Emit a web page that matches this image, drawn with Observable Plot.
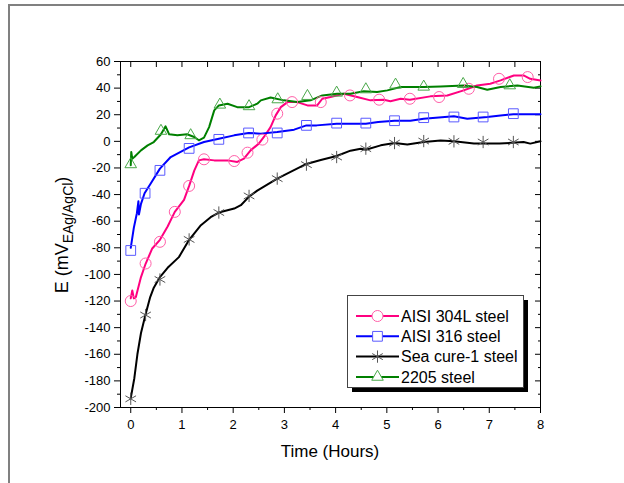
<!DOCTYPE html>
<html><head><meta charset="utf-8">
<script src="https://cdn.jsdelivr.net/npm/d3@7"></script>
<script src="https://cdn.jsdelivr.net/npm/@observablehq/plot@0.6"></script>
<style>
body{margin:0;background:#fff;}
#wrap{position:relative;width:624px;height:483px;overflow:hidden;font-family:Arial,"Liberation Sans",sans-serif;}
#border{position:absolute;left:8px;top:4px;width:700px;height:600px;border-top:2px solid #808080;border-left:2px solid #808080;}
#wrap svg{position:absolute;left:0;top:0;}
</style></head><body><div id="wrap"><div id="border"></div></div>
<script>
// ---- data ----
const seriesNames = ["AISI 304L steel", "AISI 316 steel", "Sea cure-1 steel", "2205 steel"];
const lineColors = ["#ff0080", "#0000ff", "#000000", "#008000"];
const markerColors = ["#ff5fa8", "#5a5aff", "#555555", "#4aa84a"];
const markerSymbols = ["circle", "square", "asterisk", "triangle"];

const pinkT = [0, 0.03, 0.06, 0.1, 0.2, 0.29, 0.42, 0.57, 0.72, 0.86, 1.04, 1.14, 1.24, 1.33, 1.43, 1.63, 1.89, 2.08, 2.21, 2.34, 2.5, 2.6, 2.73, 2.83, 2.93, 3.06, 3.25, 3.45, 3.64, 3.74, 3.9, 4.16, 4.42, 4.68, 4.94, 5.07, 5.27, 5.45, 5.85, 6.18, 6.5, 6.76, 7.02, 7.22, 7.48, 7.67, 7.8, 8];
const pinkE = [-118, -112, -118, -117, -102, -92, -80.5, -74, -64, -53, -44, -33.5, -22, -14.3, -13.5, -14.3, -14.3, -15.5, -13, -6.8, -1.7, 3.3, 10.7, 19.5, 25.7, 29.5, 29.5, 27, 27, 32, 33.3, 35.8, 33.3, 30.8, 31.3, 30.2, 32, 31.3, 33.8, 34.5, 38.3, 42, 43.3, 45.8, 49.5, 49.5, 47, 45.8];
const pinkMarkT = [0, 0.29, 0.57, 0.86, 1.14, 1.43, 2.02, 2.28, 2.57, 2.86, 3.15, 3.71, 4.28, 4.85, 5.45, 6.02, 6.6, 7.19, 7.75];
const pinkMarkE = [-120, -91.8, -75.5, -53, -33.5, -13.5, -14.8, -8.5, 1.3, 20.8, 29.5, 29.5, 34.5, 31.3, 32, 33.3, 39.5, 47, 48.3];

const blueT = [0, 0.06, 0.12, 0.15, 0.16, 0.2, 0.27, 0.39, 0.57, 0.78, 1.14, 1.43, 1.72, 2.02, 2.3, 2.54, 2.86, 3.19, 3.43, 3.63, 4.02, 4.59, 4.83, 5.15, 5.46, 5.72, 6.31, 6.57, 6.96, 7.22, 7.47, 8];
const blueE = [-80, -65, -54, -45, -55, -47, -39, -31.7, -20.5, -11.8, -4.5, -0.5, 2, 4.5, 6.3, 5.8, 7, 8.8, 12, 12, 13.3, 13.3, 14.5, 15.5, 15.5, 17, 18.8, 17, 18.3, 19.5, 20.3, 20.3];
const blueMarkT = [0, 0.28, 0.57, 1.14, 1.72, 2.3, 2.86, 3.43, 4.02, 4.59, 5.15, 5.72, 6.31, 6.88, 7.47];
const blueMarkE = [-82, -39, -21.8, -5.3, 1.5, 6.3, 6.3, 12, 13.7, 13.7, 15.5, 17.8, 18.3, 18.3, 20.8];

const blackT = [0, 0.07, 0.13, 0.2, 0.29, 0.38, 0.45, 0.57, 0.72, 0.94, 1.14, 1.37, 1.56, 1.72, 2.02, 2.15, 2.31, 2.47, 2.6, 2.86, 3.12, 3.43, 3.71, 4.02, 4.29, 4.49, 4.59, 4.88, 5.15, 5.4, 5.72, 6.05, 6.31, 6.7, 7.2, 7.67, 7.8, 8];
const blackE = [-193, -178, -160, -144, -130, -117, -110, -102, -95, -87, -74, -63, -57, -53.5, -50.5, -48, -41.5, -37, -34, -28, -23, -17, -14, -11, -7, -5.5, -6.3, -3, -1.3, -2.3, -0.5, 0.7, 0, -1.7, -1.7, -0.5, -1.7, 0];
const blackMarkT = [0, 0.29, 0.57, 1.14, 1.72, 2.31, 2.86, 3.43, 4.02, 4.59, 5.15, 5.72, 6.31, 6.88, 7.47];
const blackMarkE = [-193.5, -130.5, -103.8, -73.7, -53.5, -41, -28, -17.5, -11.8, -5.5, -1.3, 0.2, 0, -0.5, -0.5];

const greenT = [0, 0.01, 0.03, 0.07, 0.2, 0.33, 0.45, 0.59, 0.68, 0.75, 0.91, 1.1, 1.24, 1.33, 1.43, 1.53, 1.63, 1.72, 1.89, 2.08, 2.31, 2.47, 2.54, 2.73, 2.99, 3.25, 3.51, 3.74, 4.03, 4.29, 4.55, 4.81, 5.01, 5.27, 5.4, 5.72, 6.05, 6.5, 6.76, 6.96, 7.22, 7.55, 7.87, 8];
const greenE = [-18, -8, -13, -11.8, -6.8, -3, -0.5, 5.3, 11.3, 5.3, 4.5, 5.3, 3.3, 0.8, 2.8, 10.7, 23.3, 27, 28.3, 25.7, 25.7, 28.3, 30.8, 33, 30.8, 29.5, 30.8, 34.5, 35.8, 35.8, 37.7, 37, 38.3, 40.8, 40.8, 40.8, 41.3, 42, 40.8, 38.8, 40.8, 42, 40.3, 41.3];
const greenMarkT = [0, 0.59, 1.17, 1.74, 2.31, 2.87, 3.45, 4.02, 4.59, 5.17, 5.72, 6.49, 7.4];
const greenMarkE = [-17.3, 7.8, 4.5, 27.5, 26.3, 31.5, 34, 36.5, 39, 42.5, 41, 43, 42];

const xMajor = [0, 1, 2, 3, 4, 5, 6, 7, 8];
const xMinor = [0.5, 1.5, 2.5, 3.5, 4.5, 5.5, 6.5, 7.5];
const yMajor = [-200, -180, -160, -140, -120, -100, -80, -60, -40, -20, 0, 20, 40, 60];
const yMinor = [-190, -170, -150, -130, -110, -90, -70, -50, -30, -10, 10, 30, 50];

// ---- tables ----
const lineSets = [[pinkT, pinkE], [blueT, blueE], [blackT, blackE], [greenT, greenE]];
const markSets = [[pinkMarkT, pinkMarkE], [blueMarkT, blueMarkE], [blackMarkT, blackMarkE], [greenMarkT, greenMarkE]];
const lineRows = lineSets.flatMap(([ts, es], i) => ts.map((t, j) => ({s: i, t, E: es[j]})));
const markRows = markSets.flatMap(([ts, es], i) => ts.map((t, j) => ({s: i, t, E: es[j]})));
const markR = [5.5, 5.5, 5.8, 4.3];

const font = "Arial, 'Liberation Sans', sans-serif";
const noText = () => "";

const marks = [
  Plot.frame({stroke: "#000", strokeWidth: 1}),
  Plot.axisX({ticks: xMajor, tickSize: 6, tickPadding: 6, label: null, tickFormat: d => String(d)}),
  Plot.axisX({ticks: xMinor, tickSize: 3, label: null, tickFormat: noText}),
  Plot.axisX({anchor: "top", ticks: xMajor.concat(xMinor), tickSize: -5, label: null, tickFormat: noText}),
  Plot.axisY({ticks: yMajor, tickSize: 6, tickPadding: 4, label: null, tickFormat: d => String(d)}),
  Plot.axisY({ticks: yMinor, tickSize: 3, label: null, tickFormat: noText}),
  Plot.axisY({anchor: "right", ticks: yMajor, tickSize: -6, label: null, tickFormat: noText}),
  Plot.axisY({anchor: "right", ticks: yMinor, tickSize: -3, label: null, tickFormat: noText})
];
for (let i = 0; i < 4; i++) {
  marks.push(Plot.line(lineRows.filter(d => d.s === i), {x: "t", y: "E", stroke: lineColors[i], strokeWidth: 2}));
}
for (let i = 0; i < 4; i++) {
  marks.push(Plot.dot(markRows.filter(d => d.s === i), {x: "t", y: "E", symbol: markerSymbols[i], stroke: markerColors[i], r: markR[i], strokeWidth: 1, fill: "none"}));
}

const chart = Plot.plot({
  width: 624, height: 483,
  marginLeft: 120, marginRight: 84, marginTop: 61, marginBottom: 76,
  style: {fontFamily: font, fontSize: "13px", color: "#000", background: "transparent", overflow: "visible"},
  x: {domain: [-0.2, 8]},
  y: {domain: [-200, 60]},
  marks
});

const svg = d3.select(chart);
// axis titles
svg.append("text").attr("x", 330).attr("y", 457).attr("text-anchor", "middle")
  .attr("font-family", font).attr("font-size", 17).attr("fill", "#000").text("Time (Hours)");
const yl = svg.append("text").attr("transform", "translate(68,235) rotate(-90)").attr("text-anchor", "middle")
  .attr("font-family", font).attr("font-size", 18).attr("fill", "#000");
yl.append("tspan").text("E (mV");
yl.append("tspan").attr("font-size", 14).attr("dy", 5).text("EAg/AgCl");
yl.append("tspan").attr("dy", -5).text(")");

// legend
const lg = svg.append("g").attr("text-anchor", "start");
lg.append("rect").attr("x", 352).attr("y", 300).attr("width", 176).attr("height", 92).attr("fill", "#000");
lg.append("rect").attr("x", 347.5).attr("y", 295.5).attr("width", 176).attr("height", 92).attr("fill", "#fff").attr("stroke", "#444").attr("stroke-width", 1);
const symMap = {circle: d3.symbolCircle, square: d3.symbolSquare, asterisk: d3.symbolAsterisk, triangle: d3.symbolTriangle};
seriesNames.forEach((name, i) => {
  const y = 316 + i * 20.3;
  lg.append("line").attr("x1", 356).attr("x2", 399).attr("y1", y).attr("y2", y).attr("stroke", lineColors[i]).attr("stroke-width", 2);
  lg.append("path").attr("transform", `translate(377.5,${y})`)
    .attr("d", d3.symbol(symMap[markerSymbols[i]], markR[i] * markR[i] * Math.PI)())
    .attr("fill", "#fff").attr("stroke", markerColors[i]).attr("stroke-width", 1);
  lg.append("text").attr("x", 401).attr("y", y + 5.8).attr("text-anchor", "start")
    .attr("font-family", font).attr("font-size", 16).attr("fill", "#000").text(name);
});

document.getElementById("wrap").appendChild(chart);
</script>
</body></html>
